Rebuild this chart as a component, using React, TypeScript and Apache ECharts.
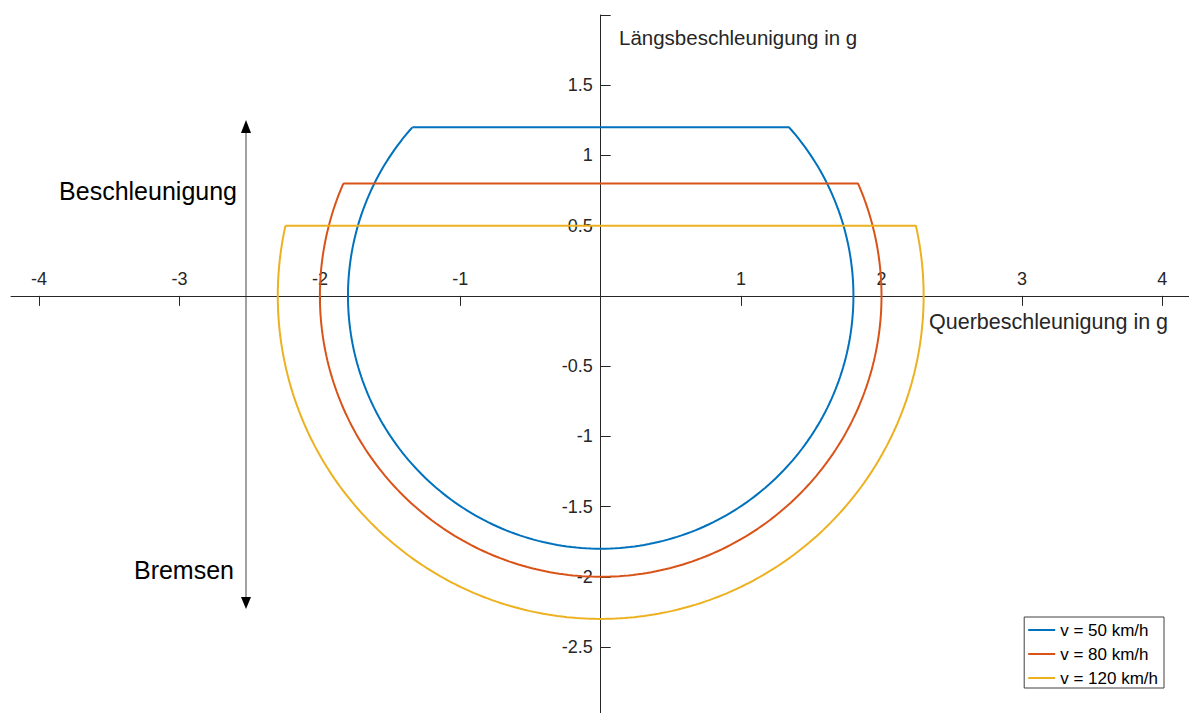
import React, { useEffect, useRef } from 'react';
import * as echarts from 'echarts';

// Kamm'scher Kreis bei drei Geschwindigkeiten
const speedLabels = ['v = 50 km/h', 'v = 80 km/h', 'v = 120 km/h'];
// maximale kombinierte Beschleunigung (Kreisradius) in g
const circleRadius = [1.8, 2.0, 2.3];
// Grenze der Längsbeschleunigung beim Antreiben in g
const driveLimit = [1.2, 0.8, 0.5];
const lineColors = ['#0072BD', '#D95319', '#EDB120'];

const xTickValues = [-4, -3, -2, -1, 0, 1, 2, 3, 4];
const xLabelValues = [-4, -3, -2, -1, 1, 2, 3, 4];
const yTickValues = [-2.5, -2, -1.5, -1, -0.5, 0, 0.5, 1, 1.5, 2];
const yLabelValues = [-2.5, -2, -1.5, -1, -0.5, 0.5, 1, 1.5];

const X_MIN = -4.2;
const X_MAX = 4.19;
const Y_MIN = -2.97;
const Y_MAX = 2;

const WIDTH = 1189;
const HEIGHT = 713;
const GRID = { left: 11, right: 0, top: 15, bottom: 0 };

const FONT = '"Liberation Sans", Arial, Helvetica, sans-serif';
const AXIS_COLOR = '#262626';

// Friction circle of radius r, cut off at the longitudinal limit `cap`:
// the arc runs from the upper left down through the bottom to the upper right,
// then the flat drive limit closes the shape.
function frictionCurve(r: number, cap: number): number[][] {
  const s = Math.asin(cap / r);
  const steps = 240;
  const pts: number[][] = [];
  for (let i = 0; i <= steps; i++) {
    const a = Math.PI - s + ((Math.PI + 2 * s) * i) / steps;
    pts.push([r * Math.cos(a), r * Math.sin(a)]);
  }
  pts.push(pts[0]);
  return pts;
}

export default function App() {
  const ref = useRef<HTMLDivElement>(null);

  useEffect(() => {
    if (!ref.current) return;
    const chart = echarts.init(ref.current, undefined, { renderer: 'svg' });

    // Move both axes from the grid edges to the origin, so the labels travel with them.
    const gridW = WIDTH - GRID.left - GRID.right;
    const gridH = HEIGHT - GRID.top - GRID.bottom;
    const zeroFromLeft = ((0 - X_MIN) / (X_MAX - X_MIN)) * gridW;
    const zeroFromBottom = ((0 - Y_MIN) / (Y_MAX - Y_MIN)) * gridH;

    const series = speedLabels.map((name, i) => ({
      type: 'line',
      name,
      data: frictionCurve(circleRadius[i], driveLimit[i]),
      symbol: 'none',
      showSymbol: false,
      smooth: false,
      clip: true,
      lineStyle: { width: 2, color: lineColors[i] },
      itemStyle: { color: lineColors[i] },
      z: 3 + i,
    }));

    chart.setOption({
      animation: false,
      backgroundColor: '#ffffff',
      grid: { ...GRID, containLabel: false, outerBoundsMode: 'none' },
      xAxis: {
        type: 'value',
        min: X_MIN,
        max: X_MAX,
        position: 'bottom',
        offset: -zeroFromBottom,
        axisLine: { show: true, onZero: false, lineStyle: { color: AXIS_COLOR, width: 1 } },
        axisTick: {
          show: true,
          inside: false,
          length: 10,
          customValues: xTickValues,
          lineStyle: { color: AXIS_COLOR, width: 1 },
        },
        axisLabel: {
          inside: true,
          margin: 8,
          customValues: xLabelValues,
          fontSize: 18,
          fontFamily: FONT,
          color: AXIS_COLOR,
        },
        splitLine: { show: false },
      },
      yAxis: {
        type: 'value',
        min: Y_MIN,
        max: Y_MAX,
        position: 'left',
        offset: -zeroFromLeft,
        axisLine: { show: true, onZero: false, lineStyle: { color: AXIS_COLOR, width: 1 } },
        axisTick: {
          show: true,
          inside: true,
          length: 10,
          customValues: yTickValues,
          lineStyle: { color: AXIS_COLOR, width: 1 },
        },
        axisLabel: {
          inside: false,
          margin: 8,
          customValues: yLabelValues,
          fontSize: 18,
          fontFamily: FONT,
          color: AXIS_COLOR,
        },
        splitLine: { show: false },
      },
      legend: {
        orient: 'vertical',
        right: 25,
        bottom: 25,
        icon: 'rect',
        itemWidth: 27,
        itemHeight: 2,
        itemGap: 6,
        padding: [4, 6, 1, 4],
        borderColor: '#404040',
        borderWidth: 1,
        borderRadius: 0,
        backgroundColor: '#ffffff',
        selectedMode: false,
        textStyle: { fontSize: 17, fontFamily: FONT, color: '#000000', lineHeight: 18 },
        data: speedLabels,
      },
      graphic: [
        {
          type: 'text',
          x: 619,
          y: 37,
          style: {
            text: 'Längsbeschleunigung in g',
            fontSize: 20.5,
            fontFamily: FONT,
            fill: AXIS_COLOR,
            align: 'left',
            verticalAlign: 'middle',
          },
        },
        {
          type: 'text',
          x: 929,
          y: 322,
          style: {
            text: 'Querbeschleunigung in g',
            fontSize: 21.5,
            fontFamily: FONT,
            fill: AXIS_COLOR,
            align: 'left',
            verticalAlign: 'middle',
          },
        },
        {
          type: 'text',
          x: 237,
          y: 191,
          style: {
            text: 'Beschleunigung',
            fontSize: 25,
            fontFamily: FONT,
            fill: '#000000',
            align: 'right',
            verticalAlign: 'middle',
          },
        },
        {
          type: 'text',
          x: 234,
          y: 570,
          style: {
            text: 'Bremsen',
            fontSize: 25,
            fontFamily: FONT,
            fill: '#000000',
            align: 'right',
            verticalAlign: 'middle',
          },
        },
        {
          type: 'line',
          shape: { x1: 246, y1: 132, x2: 246, y2: 598 },
          style: { stroke: '#707070', lineWidth: 1.3 },
        },
        {
          type: 'polygon',
          shape: { points: [[246, 120], [241, 133], [251, 133]] },
          style: { fill: '#000000' },
        },
        {
          type: 'polygon',
          shape: { points: [[246, 609], [241, 597], [251, 597]] },
          style: { fill: '#000000' },
        },
      ],
      series,
    });

    return () => chart.dispose();
  }, []);

  return (
    <div
      ref={ref}
      style={{ position: 'fixed', left: 0, top: 0, width: WIDTH, height: HEIGHT, background: '#fff' }}
    />
  );
}
